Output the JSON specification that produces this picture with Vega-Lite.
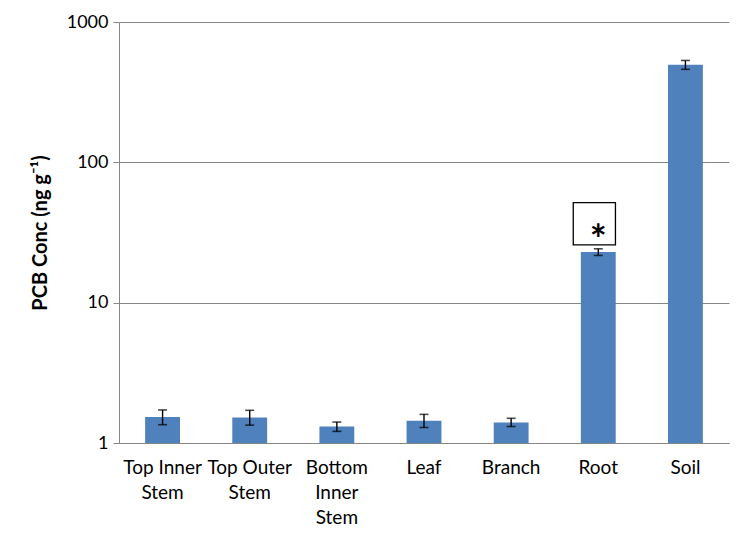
{
  "$schema": "https://vega.github.io/schema/vega-lite/v6.json",
  "width": 610,
  "height": 421,
  "autosize": {"type": "none"},
  "padding": {"left": 119, "top": 22, "right": 21, "bottom": 102},
  "background": "white",
  "config": {
    "view": {"stroke": null},
    "font": "Lato",
    "axis": {"labelFont": "Lato", "titleFont": "Lato"}
  },
  "datasets": {
    "bars": [
      {"tissue": "Top Inner Stem", "conc": 1.53, "lo": 1.35, "hi": 1.72},
      {"tissue": "Top Outer Stem", "conc": 1.52, "lo": 1.34, "hi": 1.71},
      {"tissue": "Bottom Inner Stem", "conc": 1.31, "lo": 1.21, "hi": 1.41},
      {"tissue": "Leaf", "conc": 1.44, "lo": 1.29, "hi": 1.60},
      {"tissue": "Branch", "conc": 1.40, "lo": 1.31, "hi": 1.50},
      {"tissue": "Root", "conc": 23, "lo": 21.7, "hi": 24.2},
      {"tissue": "Soil", "conc": 495, "lo": 460, "hi": 532}
    ],
    "sig": [
      {"tissue": "Root", "pos": 36.5, "mark": "*"}
    ]
  },
  "encoding": {
    "x": {
      "field": "tissue",
      "type": "nominal",
      "sort": null,
      "scale": {"paddingInner": 0.6, "paddingOuter": 0.3},
      "axis": {
        "title": null,
        "labelAngle": 0,
        "labelFontSize": 19,
        "labelColor": "black",
        "labelPadding": 15,
        "labelLineHeight": 25,
        "labelBaseline": "top",
        "ticks": false,
        "domainColor": "#868686",
        "labelExpr": "datum.value == 'Top Inner Stem' ? ['Top Inner', 'Stem'] : datum.value == 'Top Outer Stem' ? ['Top Outer', 'Stem'] : datum.value == 'Bottom Inner Stem' ? ['Bottom', 'Inner', 'Stem'] : datum.value"
      }
    }
  },
  "layer": [
    {
      "data": {"name": "bars"},
      "mark": {"type": "bar", "color": "#4F81BD"},
      "encoding": {
        "y": {
          "field": "conc",
          "type": "quantitative",
          "scale": {"type": "log", "domain": [1, 1000], "nice": false},
          "axis": {
            "title": "PCB Conc (ng g⁻¹)",
            "titleFontSize": 20,
            "titleFontWeight": "bold",
            "titleColor": "black",
            "titlePadding": 16,
            "values": [1, 10, 100, 1000],
            "format": "d",
            "labelFontSize": 18,
            "labelColor": "black",
            "labelPadding": 5,
            "tickSize": 6,
            "tickColor": "#868686",
            "domainColor": "#868686",
            "gridColor": "#868686",
            "grid": true
          }
        },
        "y2": {"datum": 1}
      }
    },
    {
      "data": {"name": "bars"},
      "mark": {"type": "rule", "color": "black", "strokeWidth": 1.4},
      "encoding": {
        "y": {"field": "lo", "type": "quantitative"},
        "y2": {"field": "hi"}
      }
    },
    {
      "data": {"name": "bars"},
      "mark": {"type": "tick", "color": "black", "thickness": 1.6, "size": 9},
      "encoding": {"y": {"field": "lo", "type": "quantitative"}}
    },
    {
      "data": {"name": "bars"},
      "mark": {"type": "tick", "color": "black", "thickness": 1.6, "size": 9},
      "encoding": {"y": {"field": "hi", "type": "quantitative"}}
    },
    {
      "data": {"name": "sig"},
      "mark": {"type": "point", "shape": "square", "filled": true, "fill": "white", "stroke": "black", "strokeWidth": 1.3, "size": 1780, "opacity": 1},
      "encoding": {
        "y": {"field": "pos", "type": "quantitative"},
        "xOffset": {"value": 13.5}
      }
    },
    {
      "data": {"name": "sig"},
      "mark": {"type": "text", "fontSize": 40, "fontWeight": "bold", "color": "black", "baseline": "alphabetic", "align": "center", "dx": 0, "dy": 30},
      "encoding": {
        "y": {"field": "pos", "type": "quantitative"},
        "text": {"field": "mark"}
      }
    }
  ]
}
